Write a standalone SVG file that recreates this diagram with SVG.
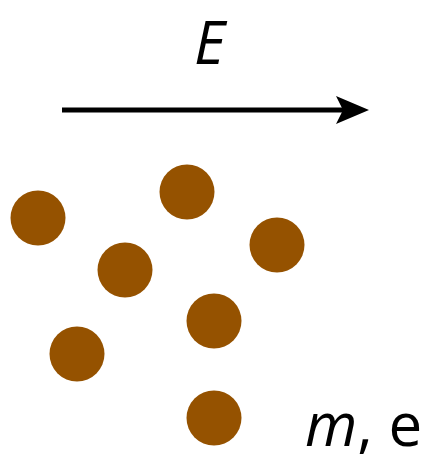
<svg xmlns="http://www.w3.org/2000/svg" width="426" height="457" viewBox="0 0 426 457">
<style>
.p{fill:#955200}
.t{font-family:"Open Sans","DejaVu Sans",sans-serif;font-size:60px;fill:#000}
</style>
<rect width="426" height="457" fill="#fff"/>
<g id="label-E"><text class="t" x="194" y="64" font-size="68" font-style="italic">E</text></g>
<g id="connectors">
<line x1="62" y1="110" x2="345" y2="110" stroke="#000" stroke-width="5"/>
<path d="M336,96 L369,110 L336,124 L343,110 Z" fill="#000"/>
</g>
<g id="particles">
<circle class="p" cx="38" cy="218" r="27.5"/>
<circle class="p" cx="187" cy="192" r="27.5"/>
<circle class="p" cx="125" cy="270" r="27.5"/>
<circle class="p" cx="277" cy="245" r="27.5"/>
<circle class="p" cx="214" cy="321" r="27.5"/>
<circle class="p" cx="77" cy="354" r="27.5"/>
<circle class="p" cx="214" cy="418" r="27.5"/>
</g>
<g id="label-me"><text class="t" x="305" y="446"><tspan font-style="italic">m</tspan>, e</text></g>
</svg>
